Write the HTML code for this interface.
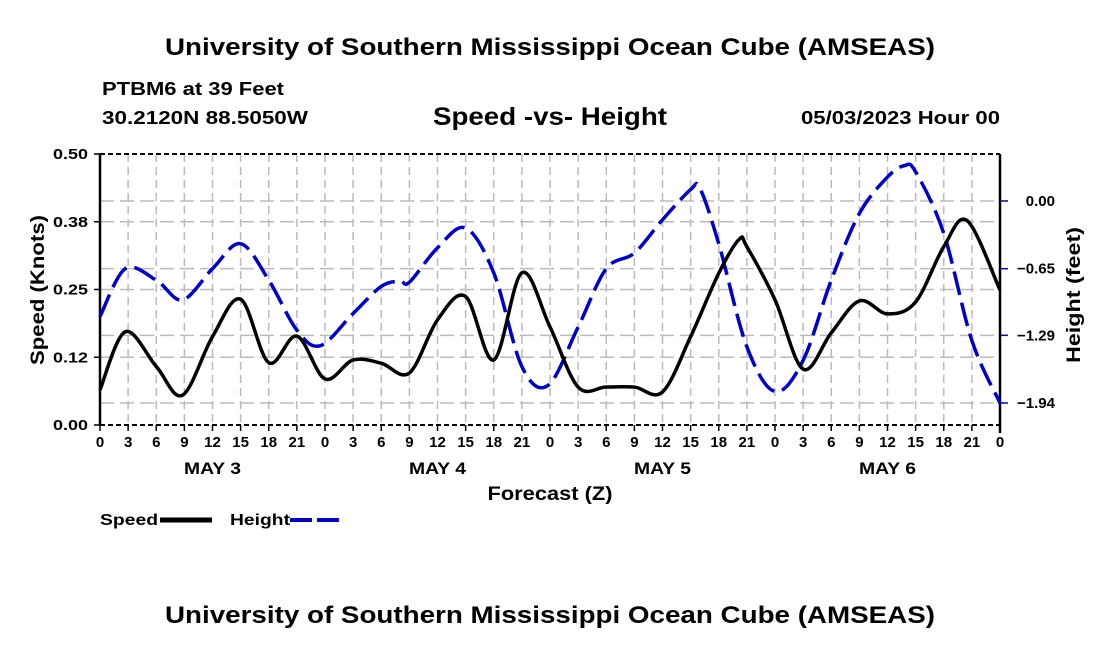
<!DOCTYPE html>
<html><head><meta charset="utf-8"><style>
body{margin:0;background:#fff;}
svg{display:block;font-family:"Liberation Sans",Arial,sans-serif;}
</style></head><body>
<svg id="chart" width="1100" height="650">
<text x="550" y="55" text-anchor="middle" font-size="24" font-weight="bold" textLength="770" lengthAdjust="spacingAndGlyphs">University of Southern Mississippi Ocean Cube (AMSEAS)</text>
<text x="102" y="95" font-size="18" font-weight="bold" textLength="182" lengthAdjust="spacingAndGlyphs">PTBM6 at 39 Feet</text>
<text x="102" y="124" font-size="18" font-weight="bold" textLength="206" lengthAdjust="spacingAndGlyphs">30.2120N  88.5050W</text>
<text x="550" y="125" text-anchor="middle" font-size="25" font-weight="bold" textLength="234" lengthAdjust="spacingAndGlyphs">Speed -vs- Height</text>
<text x="1000" y="124" text-anchor="end" font-size="18" font-weight="bold" textLength="199" lengthAdjust="spacingAndGlyphs">05/03/2023 Hour 00</text>
<g id="grid"></g>
<g id="axes"></g>
<g id="series"></g>
<text x="550" y="500" text-anchor="middle" font-size="19" font-weight="bold" textLength="125" lengthAdjust="spacingAndGlyphs">Forecast (Z)</text>
<text transform="translate(44,290) rotate(-90)" text-anchor="middle" font-size="19" font-weight="bold" textLength="150" lengthAdjust="spacingAndGlyphs">Speed (Knots)</text>
<text transform="translate(1080,295) rotate(-90)" text-anchor="middle" font-size="19" font-weight="bold" textLength="136" lengthAdjust="spacingAndGlyphs">Height (feet)</text>
<g>
<text x="100" y="525" font-size="16" font-weight="bold" textLength="58" lengthAdjust="spacingAndGlyphs">Speed</text>
<line x1="160" y1="520" x2="212" y2="520" stroke="#000" stroke-width="5"/>
<text x="230" y="525" font-size="16" font-weight="bold" textLength="60" lengthAdjust="spacingAndGlyphs">Height</text>
<line x1="290" y1="520" x2="342" y2="520" stroke="#00c" stroke-width="4" stroke-dasharray="22,5"/>
</g>
<text x="550" y="623" text-anchor="middle" font-size="24" font-weight="bold" textLength="770" lengthAdjust="spacingAndGlyphs">University of Southern Mississippi Ocean Cube (AMSEAS)</text>
</svg>
<script>
const speedHours=[0,2.7,6,8.8,12,15,18,21,24,27,30,33,36,39,42,45,48,51,54,57,60,63,66,68.2,69,72,75,78,81,84,87,90,92.5,96];
const speedValues=[0.065,0.172,0.108,0.055,0.163,0.232,0.115,0.164,0.085,0.12,0.114,0.096,0.194,0.237,0.12,0.281,0.181,0.07,0.07,0.07,0.061,0.163,0.28,0.343,0.329,0.231,0.103,0.17,0.229,0.205,0.227,0.329,0.377,0.249];
const heightHours=[0,2.7,6,8.8,12,15,18,21,23.5,27,30,32,33,36,39,42,45,47.8,51,54,57,60,63,64,66,69,72,75,78,81,84,85.8,87,90,93,96];
const heightValues=[-1.11,-0.65,-0.76,-0.95,-0.65,-0.41,-0.76,-1.24,-1.39,-1.08,-0.82,-0.77,-0.78,-0.45,-0.26,-0.69,-1.59,-1.77,-1.21,-0.65,-0.5,-0.18,0.11,0.12,-0.41,-1.4,-1.83,-1.53,-0.76,-0.12,0.23,0.34,0.28,-0.31,-1.34,-1.94];
const leftTicks=[0,0.125,0.25,0.375,0.5];
const leftTickLabels=["0.00","0.12","0.25","0.38","0.50"];
const rightTicks=[0,-0.65,-1.29,-1.94];
const rightTickLabels=["0.00","\u22120.65","\u22121.29","\u22121.94"];
const xTickLabels=["0","3","6","9","12","15","18","21"];
const dayLabels=["MAY 3","MAY 4","MAY 5","MAY 6"];
const X0=100,X1=1000,Y0=425,Y1=154;
const xs=h=>X0+h*(X1-X0)/96;
const yL=v=>Y0-v*(Y0-Y1)/0.5;
const yR=v=>201-v*(403-201)/1.94;
const NS="http://www.w3.org/2000/svg";
function mk(p,t,a){const e=document.createElementNS(NS,t);for(const k in a)e.setAttribute(k,a[k]);p.appendChild(e);return e;}
const grid=document.getElementById('grid'),axes=document.getElementById('axes'),series=document.getElementById('series');
for(let h=0;h<=96;h+=3){
 const l=mk(grid,'line',{x1:xs(h),x2:xs(h),y1:Y1,y2:Y0,stroke:'#bbb','stroke-width':1.5,'stroke-dasharray':'8,5'});
 
 
 const t=mk(axes,'line',{x1:xs(h),x2:xs(h),y1:Y0,y2:Y0+6,stroke:'#000','stroke-width':1.5});
 
 
 const tx=mk(axes,'text',{x:xs(h),y:Y0+22,'text-anchor':'middle','font-size':15,'font-weight':'bold'});
 tx.textContent=xTickLabels[(h/3)%8];
 
 
}
dayLabels.forEach((d,i)=>{const t=mk(axes,'text',{x:xs(12+24*i),y:474,'text-anchor':'middle','font-size':17,'font-weight':'bold',textLength:57,lengthAdjust:'spacingAndGlyphs'});t.textContent=d;
 
 });
leftTicks.forEach((v,i)=>{
 if(i>0&&i<4){const g=mk(grid,'line',{x1:X0,x2:X1,y1:yL(v),y2:yL(v),stroke:'#bbb','stroke-width':1.5,'stroke-dasharray':'14,6'});
 
 }
 const t=mk(axes,'line',{x1:X0-6,x2:X0,y1:yL(v),y2:yL(v),stroke:'#000','stroke-width':1.5});
 
 
 const tx=mk(axes,'text',{x:X0-12,y:yL(v)+5,'text-anchor':'end','font-size':15,'font-weight':'bold',textLength:35,lengthAdjust:'spacingAndGlyphs'});
 tx.textContent=leftTickLabels[i];
 
 
});
rightTicks.forEach((v,i)=>{
 const g=mk(grid,'line',{x1:X0,x2:X1,y1:yR(v),y2:yR(v),stroke:'#bbb','stroke-width':1.5,'stroke-dasharray':'14,6'});
 
 
 const t=mk(axes,'line',{x1:X1,x2:X1+8,y1:yR(v),y2:yR(v),stroke:'#00c','stroke-width':1.5});
 
 
 const tx=mk(axes,'text',{x:X1+55,y:yR(v)+5,'text-anchor':'end','font-size':15,'font-weight':'bold'});
 tx.textContent=rightTickLabels[i];
 
 
});
[[X0,Y1,X1,Y1],[X0,Y0,X1,Y0]].forEach(a=>{const l=mk(axes,'line',{x1:a[0],y1:a[1],x2:a[2],y2:a[3],stroke:'#000','stroke-width':2,'stroke-dasharray':'5,3'});
 
 });
const la=mk(axes,'line',{x1:X0,y1:Y1,x2:X0,y2:Y0,stroke:'#000','stroke-width':2.5});


const ra=mk(axes,'line',{x1:X1,y1:Y1,x2:X1,y2:Y0+8,stroke:'#000','stroke-width':2.5});


function smooth(pts){let d=`M${pts[0][0]},${pts[0][1]}`;for(let i=0;i<pts.length-1;i++){const p0=pts[Math.max(0,i-1)],p1=pts[i],p2=pts[i+1],p3=pts[Math.min(pts.length-1,i+2)];
 d+=` C${p1[0]+(p2[0]-p0[0])/6},${p1[1]+(p2[1]-p0[1])/6} ${p2[0]-(p3[0]-p1[0])/6},${p2[1]-(p3[1]-p1[1])/6} ${p2[0]},${p2[1]}`;}return d;}
const hp=mk(series,'path',{d:smooth(heightHours.map((h,i)=>[xs(h),yR(heightValues[i])])),fill:'none',stroke:'#00c','stroke-width':3.5,'stroke-dasharray':'24,8'});


const sp=mk(series,'path',{d:smooth(speedHours.map((h,i)=>[xs(h),yL(speedValues[i])])),fill:'none',stroke:'#000','stroke-width':3.5});


</script>
</body></html>
